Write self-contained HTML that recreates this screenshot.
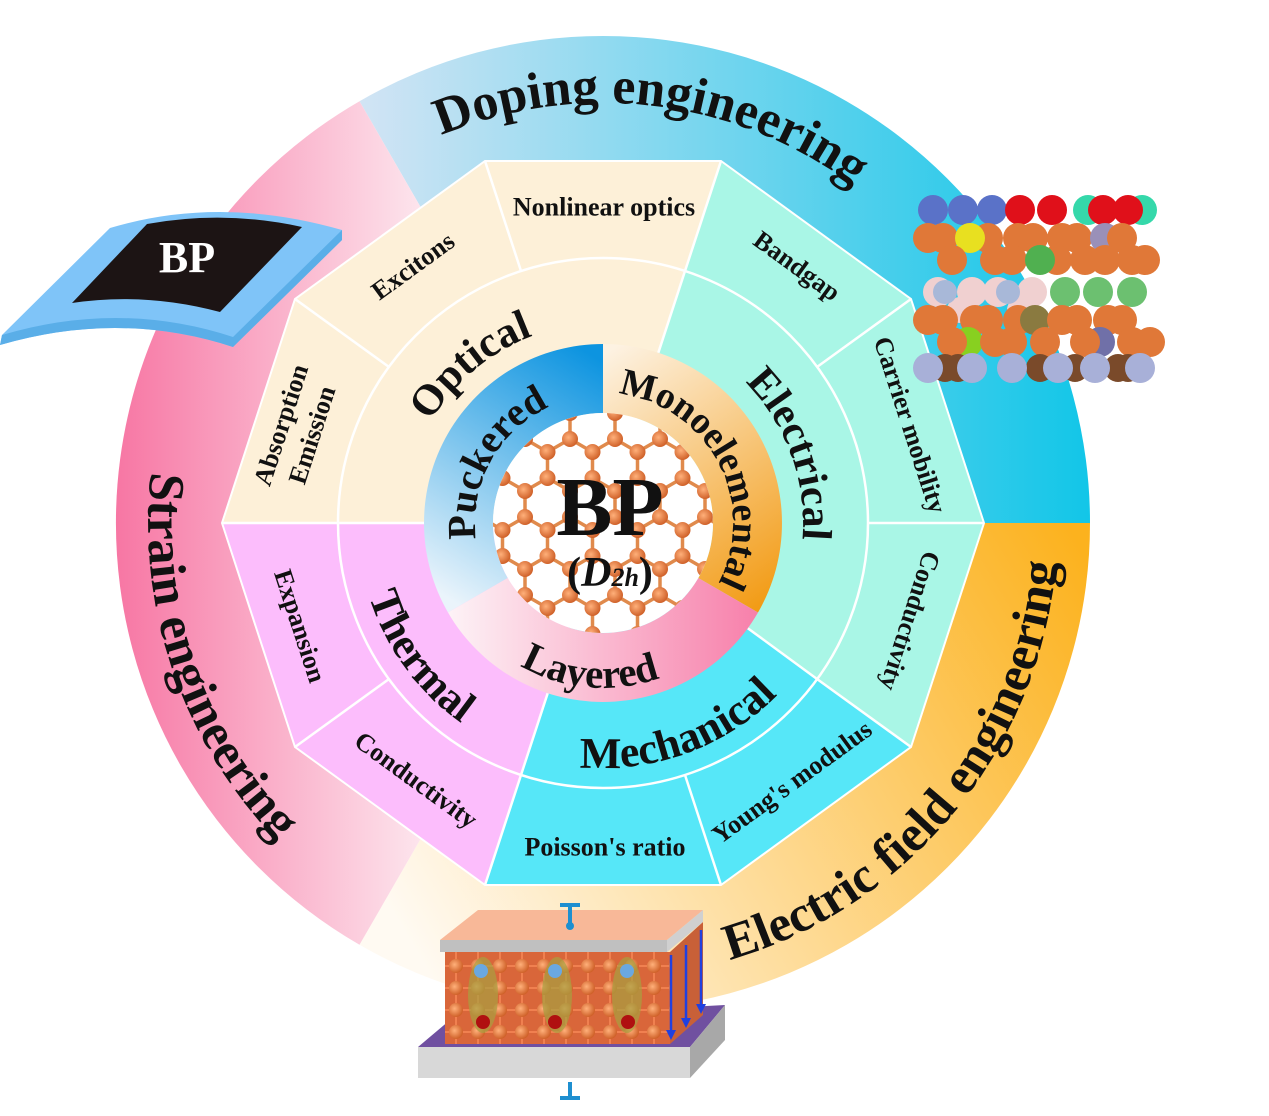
<!DOCTYPE html>
<html><head><meta charset="utf-8"><style>
html,body{margin:0;padding:0;background:#fff;}
svg{display:block;}
text{font-family:"Liberation Serif",serif;font-weight:bold;fill:#111;}
</style></head><body>
<svg width="1269" height="1116" viewBox="0 0 1269 1116" xmlns="http://www.w3.org/2000/svg">
<defs>
<linearGradient id="gDop" x1="360" y1="0" x2="1090" y2="0" gradientUnits="userSpaceOnUse"><stop offset="0" stop-color="#d2e4f4"/><stop offset="1" stop-color="#12c6e8"/></linearGradient>
<linearGradient id="gEl" x1="420" y1="960" x2="1090" y2="560" gradientUnits="userSpaceOnUse"><stop offset="0" stop-color="#fffaf2"/><stop offset="1" stop-color="#fcb21e"/></linearGradient>
<linearGradient id="gSt" x1="118" y1="0" x2="430" y2="0" gradientUnits="userSpaceOnUse"><stop offset="0" stop-color="#f777a4"/><stop offset="1" stop-color="#fde8ef"/></linearGradient>
<linearGradient id="gPk" x1="600" y1="360" x2="450" y2="600" gradientUnits="userSpaceOnUse"><stop offset="0" stop-color="#0d94e0"/><stop offset="1" stop-color="#eaf4fb"/></linearGradient>
<linearGradient id="gMo" x1="610" y1="350" x2="780" y2="600" gradientUnits="userSpaceOnUse"><stop offset="0" stop-color="#fdf2e2"/><stop offset="1" stop-color="#f29a12"/></linearGradient>
<linearGradient id="gLa" x1="450" y1="0" x2="760" y2="0" gradientUnits="userSpaceOnUse"><stop offset="0" stop-color="#fdf2f6"/><stop offset="1" stop-color="#f77faa"/></linearGradient>
<radialGradient id="ball" cx="0.4" cy="0.4" r="0.6"><stop offset="0" stop-color="#ffb07a"/><stop offset="1" stop-color="#d0622a"/></radialGradient>
<pattern id="hex" x="480" y="400" width="45" height="78" patternUnits="userSpaceOnUse">
<g stroke="#e08a4c" stroke-width="3.5">
<line x1="22.5" y1="0" x2="0" y2="13"/><line x1="22.5" y1="0" x2="45" y2="13"/><line x1="0" y1="13" x2="0" y2="39"/><line x1="45" y1="13" x2="45" y2="39"/><line x1="0" y1="39" x2="22.5" y2="52"/><line x1="45" y1="39" x2="22.5" y2="52"/><line x1="22.5" y1="52" x2="22.5" y2="78"/></g>
<g fill="url(#ball)"><circle cx="22.5" cy="0" r="8"/><circle cx="0" cy="13" r="8"/><circle cx="45" cy="13" r="8"/><circle cx="0" cy="39" r="8"/><circle cx="45" cy="39" r="8"/><circle cx="22.5" cy="52" r="8"/><circle cx="22.5" cy="78" r="8"/></g>
</pattern>
<pattern id="lat" x="445" y="955" width="22" height="22" patternUnits="userSpaceOnUse">
<rect width="22" height="22" fill="#d9663a"/><g stroke="#f08050" stroke-width="2"><line x1="0" y1="11" x2="22" y2="11"/><line x1="11" y1="0" x2="11" y2="22"/></g>
<circle cx="11" cy="11" r="7" fill="url(#ball)"/></pattern>
<path id="pDop" d="M 267.6 270.2 A 420 420 0 0 1 989.7 358.9"/>
<path id="pStr" d="M 259.7 224.5 A 455 455 0 0 0 516.2 969.6"/>
<path id="pEle" d="M 547.5 974.6 A 455 455 0 0 0 1021.8 345.2"/>
<path id="pOpt" d="M 403.8 505.6 A 200 200 0 0 1 620.4 323.8"/>
<path id="pEl2" d="M 687.5 341.7 A 200 200 0 0 1 784.3 607.5"/>
<path id="pMec" d="M 499.5 745.1 A 245 245 0 0 0 825.0 626.5"/>
<path id="pThe" d="M 360.8 484.7 A 245 245 0 0 0 564.7 765.0"/>
<path id="pPuc" d="M 492.1 587.0 A 128 128 0 0 1 598.5 395.1"/>
<path id="pMon" d="M 542.0 408.3 A 130 130 0 0 1 664.0 638.0"/>
<path id="pLay" d="M 453.5 592.7 A 165 165 0 0 0 738.2 617.6"/>
<clipPath id="cc"><circle cx="603" cy="523" r="110"/></clipPath>
</defs>

<path d="M603 523 L359.5 101.2 A487 487 0 0 1 1090 523 Z" fill="url(#gDop)"/>
<path d="M603 523 L1090 523 A487 487 0 0 1 359.5 944.8 Z" fill="url(#gEl)"/>
<path d="M603 523 L359.5 944.8 A487 487 0 0 1 359.5 101.2 Z" fill="url(#gSt)"/>

<polygon points="603,523 721,161 485,161 295,299 222,523" fill="#fdf0d8"/>
<polygon points="603,523 721,161 911,299 984,523 911,747" fill="#a9f6e6"/>
<polygon points="603,523 911,747 721,885 485,885" fill="#56e7f8"/>
<polygon points="603,523 485,885 295,747 222,523" fill="#fcbdfc"/>
<polygon points="984,523 911,299 721,161 485,161 295,299 222,523 295,747 485,885 721,885 911,747" fill="none" stroke="#fff" stroke-width="2"/>
<circle cx="603" cy="523" r="265" fill="none" stroke="#fff" stroke-width="2.5"/>
<g stroke="#fff" stroke-width="2.5">
<line x1="868" y1="523" x2="984" y2="523"/><line x1="817" y1="367" x2="911" y2="299"/><line x1="685" y1="271" x2="721" y2="161"/><line x1="521" y1="271" x2="485" y2="161"/><line x1="389" y1="367" x2="295" y2="299"/><line x1="338" y1="523" x2="222" y2="523"/><line x1="389" y1="679" x2="295" y2="747"/><line x1="521" y1="775" x2="485" y2="885"/><line x1="685" y1="775" x2="721" y2="885"/><line x1="817" y1="679" x2="911" y2="747"/>
<line x1="658.3" y1="352.8" x2="685" y2="271"/><line x1="747.8" y1="628.2" x2="817" y2="679"/><line x1="547.7" y1="693.2" x2="521" y2="775"/><line x1="424" y1="523" x2="338" y2="523"/>
</g>

<path d="M603,344 A179 179 0 0 0 448,612.5 L507.7,578 A110 110 0 0 1 603,413 Z" fill="url(#gPk)"/>
<path d="M603,344 A179 179 0 0 1 758,612.5 L698.3,578 A110 110 0 0 0 603,413 Z" fill="url(#gMo)"/>
<path d="M758,612.5 A179 179 0 0 1 448,612.5 L507.7,578 A110 110 0 0 0 698.3,578 Z" fill="url(#gLa)"/>
<circle cx="603" cy="523" r="110" fill="#fff"/>
<rect x="480" y="400" width="250" height="250" fill="url(#hex)" clip-path="url(#cc)"/>
<text x="610" y="535" font-size="84" text-anchor="middle">BP</text>
<text x="610" y="586" font-size="42" text-anchor="middle">(<tspan font-style="italic">D</tspan><tspan font-style="italic" font-size="26">2h</tspan>)</text>

<text font-size="52"><textPath href="#pDop" startOffset="50%" text-anchor="middle">Doping engineering</textPath></text>
<text font-size="51"><textPath href="#pStr" startOffset="50%" text-anchor="middle">Strain engineering</textPath></text>
<text font-size="51"><textPath href="#pEle" startOffset="48%" text-anchor="middle">Electric field engineering</textPath></text>
<text font-size="43"><textPath href="#pOpt" startOffset="50%" text-anchor="middle">Optical</textPath></text>
<text font-size="42"><textPath href="#pEl2" startOffset="50%" text-anchor="middle">Electrical</textPath></text>
<text font-size="44"><textPath href="#pMec" startOffset="50%" text-anchor="middle">Mechanical</textPath></text>
<text font-size="43"><textPath href="#pThe" startOffset="50%" text-anchor="middle">Thermal</textPath></text>
<text font-size="40"><textPath href="#pPuc" startOffset="50%" text-anchor="middle">Puckered</textPath></text>
<text font-size="38"><textPath href="#pMon" startOffset="50%" text-anchor="middle">Monoelemental</textPath></text>
<text font-size="41"><textPath href="#pLay" startOffset="50%" text-anchor="middle">Layered</textPath></text>

<g font-size="26" text-anchor="middle" dominant-baseline="central">
<text x="604" y="207">Nonlinear optics</text>
<text transform="translate(797,266) rotate(36)">Bandgap</text>
<text transform="translate(910,425) rotate(72)">Carrier mobility</text>
<text transform="translate(910,621) rotate(108)">Conductivity</text>
<text transform="translate(792,782) rotate(-36)">Young's modulus</text>
<text x="605" y="847">Poisson's ratio</text>
<text transform="translate(416,780) rotate(36)">Conductivity</text>
<text transform="translate(300,626) rotate(72)">Expansion</text>
<text transform="translate(281,425) rotate(-72)">Absorption</text>
<text transform="translate(312,435) rotate(-72)">Emission</text>
<text transform="translate(413,266) rotate(-36)">Excitons</text>
</g>

<path d="M110,228 Q220,195 342,230 L342,240 L233,347 Q120,310 0,345 L2,335 Z" fill="#7fc4f8"/>
<path d="M2,335 Q120,300 233,337 L342,230 L342,240 L233,347 Q120,310 0,345 Z" fill="#5aaee8"/>
<path d="M147,224 Q225,210 302,227 L220,312 Q145,292 72,303 Z" fill="#1c1414"/>
<text x="187" y="272" font-size="44" text-anchor="middle" style="fill:#fff">BP</text>

<g>
<circle cx="1088" cy="210" r="15" fill="#35d8aa"/><circle cx="1142" cy="210" r="15" fill="#35d8aa"/>
<circle cx="933" cy="210" r="15" fill="#5a72c8"/><circle cx="963" cy="210" r="15" fill="#5a72c8"/><circle cx="992" cy="210" r="15" fill="#5a72c8"/>
<circle cx="1020" cy="210" r="15" fill="#e0101a"/><circle cx="1052" cy="210" r="15" fill="#e0101a"/><circle cx="1103" cy="210" r="15" fill="#e0101a"/><circle cx="1128" cy="210" r="15" fill="#e0101a"/>
<g fill="#e07838">
<circle cx="928" cy="238" r="15"/><circle cx="943" cy="238" r="15"/><circle cx="988" cy="238" r="15"/><circle cx="1018" cy="238" r="15"/><circle cx="1033" cy="238" r="15"/><circle cx="1062" cy="238" r="15"/><circle cx="1077" cy="238" r="15"/><circle cx="1105" cy="238" r="15" fill="#9a90b8"/><circle cx="1122" cy="238" r="15"/>
<circle cx="970" cy="238" r="15" fill="#e8e020"/>
<circle cx="952" cy="260" r="15"/><circle cx="995" cy="260" r="15"/><circle cx="1012" cy="260" r="15"/><circle cx="1057" cy="260" r="15"/><circle cx="1085" cy="260" r="15"/><circle cx="1105" cy="260" r="15"/><circle cx="1132" cy="260" r="15"/><circle cx="1145" cy="260" r="15"/>
<circle cx="1040" cy="260" r="15" fill="#50b050"/>
</g>
<g fill="#f0d0d0"><circle cx="938" cy="292" r="15"/><circle cx="972" cy="292" r="15"/><circle cx="998" cy="292" r="15"/><circle cx="1032" cy="292" r="15"/><circle cx="960" cy="310" r="13"/><circle cx="1020" cy="310" r="13"/><circle cx="945" cy="292" r="12" fill="#a8b8d8"/><circle cx="1008" cy="292" r="12" fill="#a8b8d8"/></g>
<g fill="#6cc070"><circle cx="1065" cy="292" r="15"/><circle cx="1098" cy="292" r="15"/><circle cx="1132" cy="292" r="15"/></g>
<g fill="#e07838">
<circle cx="928" cy="320" r="15"/><circle cx="943" cy="320" r="15"/><circle cx="975" cy="320" r="15"/><circle cx="988" cy="320" r="15"/><circle cx="1018" cy="320" r="15"/><circle cx="1035" cy="320" r="15" fill="#8a7a40"/><circle cx="1062" cy="320" r="15"/><circle cx="1077" cy="320" r="15"/><circle cx="1108" cy="320" r="15"/><circle cx="1122" cy="320" r="15"/>
<circle cx="968" cy="342" r="15" fill="#88d020"/><circle cx="1100" cy="342" r="15" fill="#7070a8"/>
<circle cx="952" cy="342" r="15"/><circle cx="995" cy="342" r="15"/><circle cx="1012" cy="342" r="15"/><circle cx="1045" cy="342" r="15"/><circle cx="1085" cy="342" r="15"/><circle cx="1132" cy="342" r="15"/><circle cx="1150" cy="342" r="15"/>
</g>
<g fill="#7a4a2a"><circle cx="945" cy="368" r="14"/><circle cx="958" cy="368" r="14"/><circle cx="1040" cy="368" r="14"/><circle cx="1075" cy="368" r="14"/><circle cx="1118" cy="368" r="14"/><circle cx="1128" cy="368" r="14"/></g>
<g fill="#a8b0d8"><circle cx="928" cy="368" r="15"/><circle cx="972" cy="368" r="15"/><circle cx="1012" cy="368" r="15"/><circle cx="1058" cy="368" r="15"/><circle cx="1095" cy="368" r="15"/><circle cx="1140" cy="368" r="15"/></g>
</g>

<g>
<polygon points="418,1047 450,1020 725,1005 690,1047" fill="#7050a0"/>
<rect x="445" y="952" width="225" height="92" fill="url(#lat)"/>
<polygon points="670,952 703,922 703,1015 670,1044" fill="#c86038"/>
<polygon points="418,1047 690,1047 690,1078 418,1078" fill="#d8d8d8"/>
<polygon points="690,1047 725,1005 725,1040 690,1078" fill="#a8a8a8"/>
<polygon points="440,940 478,910 703,910 667,940" fill="#f8b898"/>
<rect x="440" y="940" width="227" height="12" fill="#c0c0c0"/>
<polygon points="667,940 703,910 703,922 667,952" fill="#d0d0d0"/>
<g fill="#a8a040" opacity="0.7"><ellipse cx="483" cy="995" rx="15" ry="38"/><ellipse cx="557" cy="995" rx="15" ry="38"/><ellipse cx="627" cy="995" rx="15" ry="38"/></g>
<g fill="#6aa8e0"><circle cx="481" cy="971" r="7"/><circle cx="555" cy="971" r="7"/><circle cx="627" cy="971" r="7"/></g>
<g fill="#b01010"><circle cx="483" cy="1022" r="7"/><circle cx="555" cy="1022" r="7"/><circle cx="628" cy="1022" r="7"/></g>
<g stroke="#2040e0" stroke-width="2.5"><line x1="671" y1="955" x2="671" y2="1035"/><line x1="686" y1="945" x2="686" y2="1022"/><line x1="701" y1="930" x2="701" y2="1008"/></g>
<g fill="#2040e0"><polygon points="666,1030 676,1030 671,1040"/><polygon points="681,1018 691,1018 686,1028"/><polygon points="696,1004 706,1004 701,1014"/></g>
<g stroke="#1e8fd0" stroke-width="4"><line x1="560" y1="905" x2="580" y2="905"/><line x1="570" y1="905" x2="570" y2="925"/><line x1="570" y1="1082" x2="570" y2="1098"/><line x1="560" y1="1098" x2="580" y2="1098"/></g>
<circle cx="570" cy="926" r="4" fill="#1e8fd0"/>
</g>
</svg>
</body></html>
